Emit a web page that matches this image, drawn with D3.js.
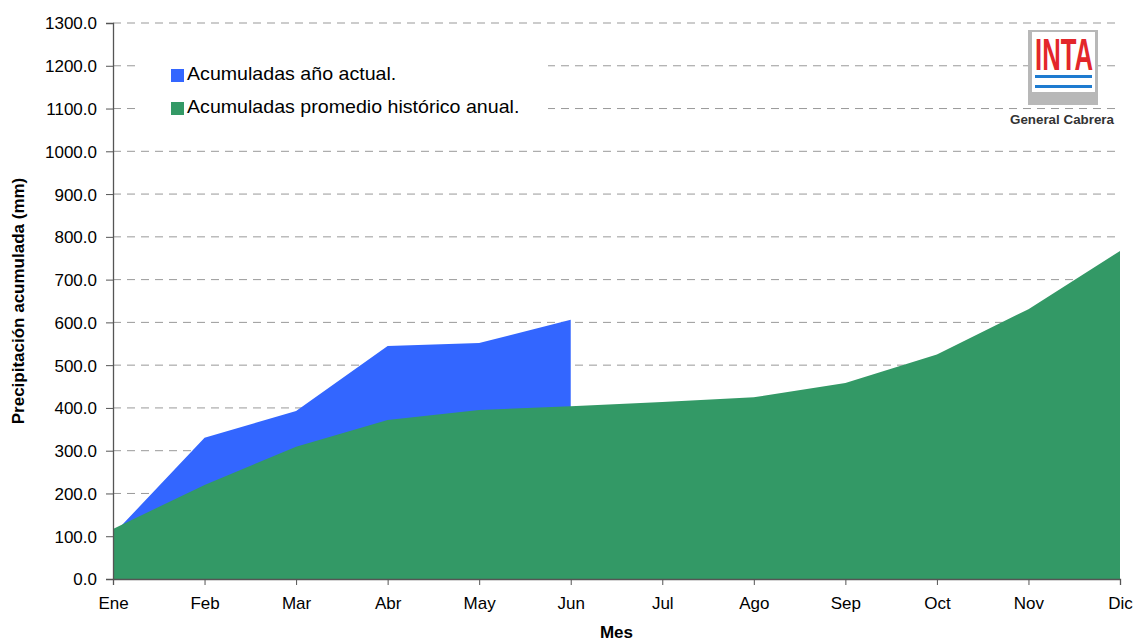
<!DOCTYPE html>
<html>
<head>
<meta charset="utf-8">
<script src="https://d3js.org/d3.v7.min.js"></script>
<style>
body { margin: 0; background: #fff; }
svg text { font-family: Arial, 'Liberation Sans', sans-serif; fill: #000; }
</style>
</head>
<body>
<svg id="chart"></svg>
<script>
// months on the x axis
var months = ["Ene","Feb","Mar","Abr","May","Jun","Jul","Ago","Sep","Oct","Nov","Dic"];
// current year, accumulated (only Ene..Jun)
var actual = [104, 330, 393, 545, 552, 606];
// historical average, accumulated
var historico = [117, 220, 309, 372, 395, 404, 414, 425, 458, 525, 631, 767];
var yTicks = d3.range(0, 1301, 100);
var legendNames = ["Acumuladas año actual.", "Acumuladas promedio histórico anual."];
var colors = ["#3366FF", "#339966"];

var W = 1136, H = 642;
var m = {left: 113, right: 16, top: 23, bottom: 63};

var svg = d3.select("#chart").attr("width", W).attr("height", H);

var x = d3.scalePoint().domain(months).range([m.left, W - m.right]);
var y = d3.scaleLinear().domain([0, 1300]).range([H - m.bottom, m.top]);

// grid
svg.append("g").selectAll("line").data(yTicks.filter(function(d){ return d > 0; }))
	.enter().append("line")
	.attr("x1", m.left).attr("x2", W - m.right)
	.attr("y1", function(d){ return y(d); }).attr("y2", function(d){ return y(d); })
	.attr("stroke", "#999").attr("stroke-width", 1)
	.attr("stroke-dasharray", "8,6");

var area = d3.area()
	.x(function(d, i){ return x(months[i]); })
	.y0(y(0))
	.y1(function(d){ return y(d); });

// blue first, green on top
svg.append("path").datum(actual).attr("d", area).attr("fill", colors[0]);
svg.append("path").datum(historico).attr("d", area).attr("fill", colors[1]);

// axes
var yAxis = d3.axisLeft(y).tickValues(yTicks).tickSize(7).tickPadding(9)
	.tickFormat(d3.format(".1f"));
var gy = svg.append("g").attr("transform", "translate(" + m.left + ",0)").call(yAxis);
gy.selectAll("text").style("font-size", "17px").attr("dy", "0.35em");

var xAxis = d3.axisBottom(x).tickSize(6).tickPadding(12);
var gx = svg.append("g").attr("transform", "translate(0," + y(0) + ")").call(xAxis);
gx.selectAll("text").style("font-size", "17px");

svg.selectAll(".domain").attr("stroke", "#555").attr("stroke-width", 1.3);
svg.selectAll(".tick line").attr("stroke", "#555");

// axis titles
svg.append("text")
	.attr("x", (m.left + W - m.right) / 2).attr("y", 638)
	.attr("text-anchor", "middle")
	.style("font-size", "17px").style("font-weight", "bold")
	.text("Mes");

svg.append("text")
	.attr("transform", "translate(24," + ((m.top + H - m.bottom) / 2) + ") rotate(-90)")
	.attr("text-anchor", "middle")
	.style("font-size", "17px").style("font-weight", "bold")
	.text("Precipitación acumulada (mm)");

// legend
svg.append("rect").attr("x", 137).attr("y", 47).attr("width", 411).attr("height", 78).attr("fill", "#fff");
var lg = svg.append("g").selectAll("g").data(legendNames).enter().append("g")
	.attr("transform", function(d, i){ return "translate(171," + (69 + i * 33) + ")"; });
lg.append("rect").attr("width", 13).attr("height", 13)
	.attr("fill", function(d, i){ return colors[i]; });
lg.append("text").attr("transform", "translate(16,11) scale(1.09,1)")
	.style("font-size", "18px")
	.text(function(d){ return d; });

// INTA logo
var logo = svg.append("g");
logo.append("rect").attr("x", 1028).attr("y", 30).attr("width", 70).attr("height", 75).attr("fill", "#b8b8b8");
logo.append("rect").attr("x", 1032).attr("y", 32).attr("width", 63).attr("height", 60).attr("fill", "#fff");
logo.append("text").attr("x", 1035).attr("y", 70)
	.attr("textLength", 58).attr("lengthAdjust", "spacingAndGlyphs")
	.style("font-family", "'Liberation Sans Narrow', 'Arial Narrow', sans-serif")
	.style("font-weight", "bold").style("font-size", "44px").style("fill", "#e3262a")
	.text("INTA");
logo.append("rect").attr("x", 1035).attr("y", 75).attr("width", 57).attr("height", 3).attr("fill", "#1e7bd0");
logo.append("rect").attr("x", 1035).attr("y", 85).attr("width", 57).attr("height", 3).attr("fill", "#1e7bd0");
logo.append("text").attr("x", 1062).attr("y", 124)
	.attr("text-anchor", "middle")
	.attr("textLength", 104).attr("lengthAdjust", "spacingAndGlyphs")
	.style("font-weight", "bold").style("font-size", "13px").style("fill", "#333")
	.text("General Cabrera");
</script>
</body>
</html>
